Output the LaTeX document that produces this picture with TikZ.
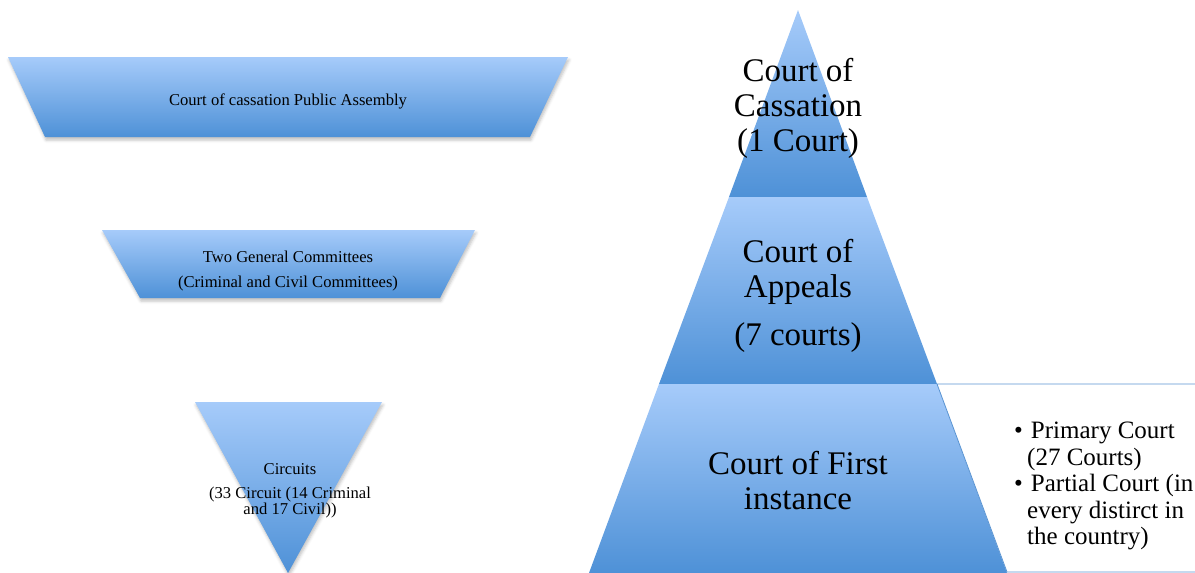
\documentclass[tikz,border=0pt]{standalone}
\usepackage{fontspec}
\setmainfont{Liberation Serif}
\usetikzlibrary{shadows.blur}
\definecolor{paleblue}{HTML}{A6CBFA}
\definecolor{deepblue}{HTML}{4E91D7}
\definecolor{lineblue}{HTML}{5A94D2}

\begin{document}
\begin{tikzpicture}[x=1pt,y=-1pt,
						tier/.style={top color=paleblue,bottom color=deepblue},
						funnel/.style={tier,
						blur shadow={shadow xshift=1pt,shadow yshift=-3pt,
						shadow blur radius=3pt,shadow opacity=25}},
						small label/.style={align=center,inner sep=0pt,
						font=\fontsize{16.6}{25}\selectfont},
						big label/.style={align=center,inner sep=0pt,
						font=\fontsize{33}{35}\selectfont}]

		\useasboundingbox (0,0) rectangle (1195,573);

		\path[funnel] (8,57) -- (568,57) -- (530,137) -- (45,137) -- cycle;
		\path[funnel] (102,230) -- (475,230) -- (440,298) -- (140,298) -- cycle;
		\path[funnel] (195,402) -- (382,402) -- (288,573) -- cycle;

		\node[small label] (assembly) at (288,101) {Court of cassation Public Assembly};
		\node[small label] (committees) at (288,271) {Two General Committees\\(Criminal and Civil Committees)};
		\node[small label,font=\fontsize{16.6}{15}\selectfont] (circuits) at (290,491)
			{Circuits\\[9pt](33 Circuit (14 Criminal\\and 17 Civil))};

		\path[tier] (798,10) -- (867,197) -- (729,197) -- cycle;
		\path[tier] (729,197) -- (867,197) -- (937,384) -- (659,384) -- cycle;
		\path[tier] (659,384) -- (937,384) -- (1007,573) -- (589,573) -- cycle;

		\draw[lineblue,line width=0.8pt] (1196,384) -- (937,384) -- (1007,572) -- (1196,572);

		\node[big label] (cassation) at (798,108) {Court of\\Cassation\\(1 Court)};
		\node[big label] (appeals) at (798,296) {Court of\\Appeals\\[13pt](7 courts)};
		\node[big label] (first) at (798,481) {Court of First\\instance};

		\node[anchor=west,align=left,inner sep=0pt,font=\fontsize{25}{26.5}\selectfont] (list) at (1014,486)
			{\textbullet\hspace{8pt}Primary Court\\
			\hspace*{13pt}(27 Courts)\\
			\textbullet\hspace{8pt}Partial Court (in\\
			\hspace*{13pt}every distirct in\\
			\hspace*{13pt}the country)};

	\end{tikzpicture}
\end{document}
